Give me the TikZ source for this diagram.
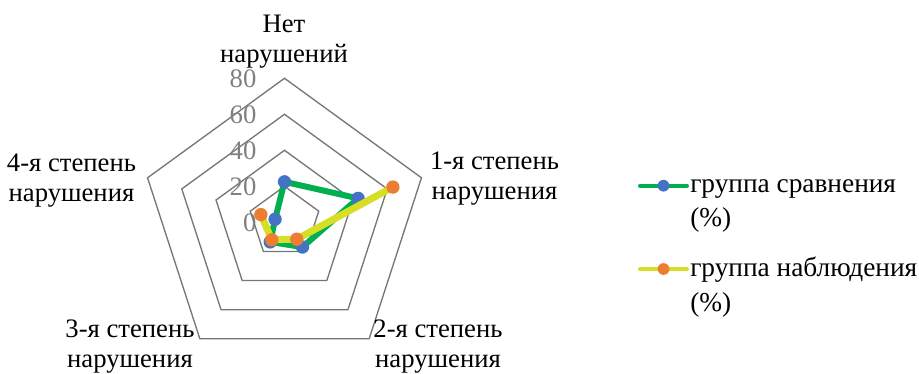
\documentclass[tikz,border=0pt]{standalone}
\usepackage{fontspec}
\setmainfont{Liberation Serif}
\usetikzlibrary{positioning}

\definecolor{gridgray}{RGB}{118,118,118}
\definecolor{tickgray}{RGB}{128,128,128}
\definecolor{cmpgreen}{RGB}{0,176,80}
\definecolor{cmpblue}{RGB}{68,114,196}
\definecolor{obsyellow}{RGB}{214,222,38}
\definecolor{obsorange}{RGB}{237,125,49}

\newcommand{\chartfont}{\fontsize{20}{22.5}\selectfont}
\newcommand{\keyfont}{\fontsize{20.5}{25.5}\selectfont}

\tikzset{
  axislabel/.style={align=center, font=\chartfont, inner sep=0pt, anchor=base},
  ticklabel/.style={text=tickgray, font=\chartfont, inner sep=0pt, anchor=east},
  legendtext/.style={align=left, font=\keyfont, inner sep=0pt, anchor=base west},
  gridline/.style={draw=gridgray, line width=1pt},
  cmpline/.style={draw=cmpgreen, line width=4.5pt, line join=round},
  obsline/.style={draw=obsyellow, line width=5.25pt, line join=round},
  cmpdot/.style={circle, fill=cmpblue, inner sep=0pt, minimum size=10pt},
  obsdot/.style={circle, fill=obsorange, inner sep=0pt, minimum size=10pt},
  keyline/.style={line width=3pt, line cap=round}
}

\begin{document}
\begin{tikzpicture}[x=0.75pt, y=0.75pt]
  \useasboundingbox (-284.5,-151.7) rectangle (634.5,222.3);

  \begin{scope}[x=1.35pt, y=1.35pt]
    % Grid
    \foreach \r in {20,40,60,80}
      \draw[gridline] (90:\r) -- (18:\r) -- (-54:\r) -- (-126:\r) -- (162:\r) -- cycle;
    \foreach \r in {0,20,40,60,80}
      \node[ticklabel] (tick\r) at (-15.5,\r) {\r};

    % Data points
    \coordinate (c0) at (90:22.5);
    \coordinate (c1) at (18:43);
    \coordinate (c2) at (-54:17);
    \coordinate (c3) at (-126:13.5);
    \coordinate (c4) at (162:5.5);
    \coordinate (o1) at (18:63.3);
    \coordinate (o2) at (-54:11.6);
    \coordinate (o3) at (-126:12);
    \coordinate (o4) at (162:13.8);

    % Series
    \draw[cmpline] (c0) -- (c1) -- (c2) -- (c3) -- (c4) -- cycle;
    \foreach \p in {c0,c1,c2,c3,c4}
      \node[cmpdot] (dot\p) at (\p) {};
    \draw[obsline] (o4) -- (o3) -- (o2) -- (o1);
    \foreach \p in {o1,o2,o3,o4}
      \node[obsdot] (dot\p) at (\p) {};
  \end{scope}

  % Axis labels
  \node[axislabel] (none) at (-0.5,159.3) {Нет\\нарушений};
  \node[axislabel] (first) at (210,22.3) {1-я степень\\нарушения};
  \node[axislabel] (second) at (153.5,-144.7) {2-я степень\\нарушения};
  \node[axislabel] (third) at (-154.5,-144.7) {3-я степень\\нарушения};
  \node[axislabel] (fourth) at (-213,20.3) {4-я степень\\нарушения};

  % Legend
  \coordinate (cmpA) at (355.5,36.6);
  \coordinate (cmpB) at (402.5,36.6);
  \coordinate (cmpM) at (379,36.6);
  \draw[keyline, cmpgreen] (cmpA) -- (cmpB);
  \node[cmpdot, minimum size=8.8pt] (cmpkey) at (cmpM) {};
  \node[legendtext] (cmptext) at (405.5,-4.7) {группа сравнения\\(\%)};

  \coordinate (obsA) at (355.5,-46.7);
  \coordinate (obsB) at (402.5,-46.7);
  \coordinate (obsM) at (379,-46.7);
  \draw[keyline, obsyellow] (obsA) -- (obsB);
  \node[obsdot, minimum size=8.8pt] (obskey) at (obsM) {};
  \node[legendtext] (obstext) at (405.5,-88.7) {группа наблюдения\\(\%)};
\end{tikzpicture}
\end{document}
